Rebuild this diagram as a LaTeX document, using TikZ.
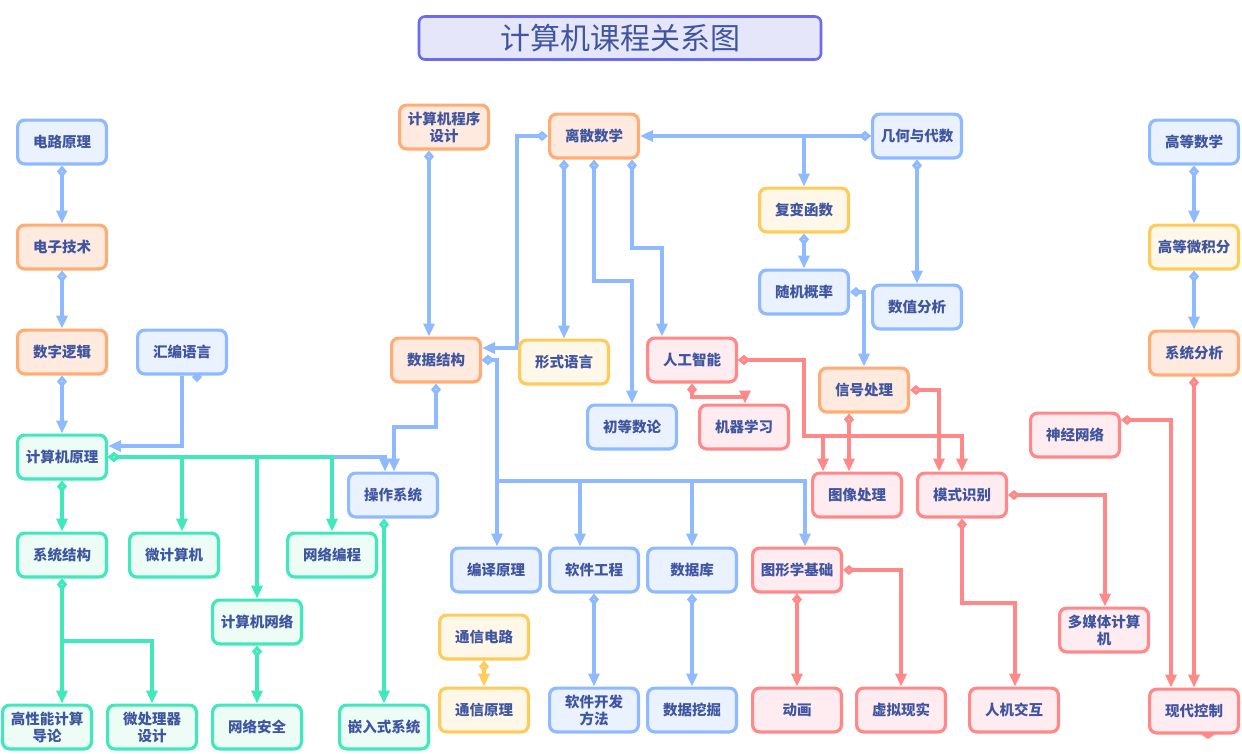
\documentclass[tikz,border=0pt]{standalone}
\usepackage{fontspec}
\newfontfamily\cjk{Noto Sans CJK SC}
\usetikzlibrary{arrows.meta}
\pgfdeclarelayer{bg}
\pgfsetlayers{bg,main}
\definecolor{tcol}{HTML}{3F55A0}
\definecolor{cblue}{HTML}{8FBAFF}\definecolor{fblue}{HTML}{EAF2FF}
\definecolor{corange}{HTML}{FFAD75}\definecolor{forange}{HTML}{FFEAE0}
\definecolor{cgreen}{HTML}{40E8BC}\definecolor{fgreen}{HTML}{EDFDF6}
\definecolor{cyellow}{HTML}{FFCC5C}\definecolor{fyellow}{HTML}{FFF8E8}
\definecolor{cred}{HTML}{FF8888}\definecolor{fred}{HTML}{FFECF0}
\definecolor{ctitle}{HTML}{6A6AF5}\definecolor{ftitle}{HTML}{E6E6FA}
\begin{document}
\begin{tikzpicture}[x=1pt,y=-1pt,
  box/.style={rectangle,rounded corners=7pt,line width=3.2pt,minimum width=88.8pt,minimum height=43.8pt,
    inner sep=1pt,align=center,text=tcol,font=\cjk\bfseries\fontsize{14.5}{17}\selectfont},
  nb/.style={box,draw=cblue,fill=fblue},
  no/.style={box,draw=corange,fill=forange},
  ng/.style={box,draw=cgreen,fill=fgreen},
  ny/.style={box,draw=cyellow,fill=fyellow},
  nr/.style={box,draw=cred,fill=fred},
  ln/.style={line width=3.2pt,line join=miter},
  ar/.style={ln,{Diamond[fill=white,length=12pt,width=10pt]}-{Triangle[length=13pt,width=11pt]}},
  eb/.style={ar,draw=cblue},
  eg/.style={ar,draw=cgreen},
  ey/.style={ar,draw=cyellow},
  er/.style={ar,draw=cred},
  ebn/.style={ln,draw=cblue,-{Triangle[length=13pt,width=11pt]}}
]
\useasboundingbox (0,0) rectangle (1242,753);
% title
\node[rectangle,rounded corners=6pt,draw=ctitle,fill=ftitle,line width=2.6pt,minimum width=402pt,minimum height=43pt,
  text=tcol,font=\cjk\fontsize{30}{32}\selectfont] (title) at (620,38) {计算机课程关系图};
% nodes
\node[nb] (dlyl) at (62,142) {电路原理};
\node[no] (dzjs) at (62,247) {电子技术};
\node[no] (szlj) at (62,352) {数字逻辑};
\node[nb] (hbyy) at (182,352) {汇编语言};
\node[ng] (jsjyl) at (62,457) {计算机原理};
\node[ng] (xtjg) at (62,555) {系统结构};
\node[ng] (wjsj) at (174,555) {微计算机};
\node[ng] (wlbc) at (332,555) {网络编程};
\node[nb] (czxt) at (393,495) {操作系统};
\node[ng] (jsjwl) at (257,622) {计算机网络};
\node[ng] (gxn) at (47,727) {高性能计算\\导论};
\node[ng] (wclq) at (152,727) {微处理器\\设计};
\node[ng] (wlaq) at (257,727) {网络安全};
\node[ng] (qrs) at (384,727) {嵌入式系统};
\node[no] (cxsj) at (444,127) {计算机程序\\设计};
\node[no] (sjjg) at (436,360) {数据结构};
\node[no] (lssx) at (594,136) {离散数学};
\node[ny] (xsyy) at (564,362) {形式语言};
\node[nr] (rgzn) at (692,360) {人工智能};
\node[nb] (cdsl) at (632,427) {初等数论};
\node[nr] (jqxx) at (744,427) {机器学习};
\node[nb] (bjyl) at (496,570) {编译原理};
\node[nb] (rjgc) at (594,570) {软件工程};
\node[nb] (sjk) at (692,570) {数据库};
\node[nr] (txx) at (797,570) {图形学基础};
\node[ny] (fbhs) at (804,210) {复变函数};
\node[nb] (jhds) at (917,136) {几何与代数};
\node[nb] (sjgl) at (804,292) {随机概率};
\node[nb] (szfx) at (917,307) {数值分析};
\node[no] (xhcl) at (864,390) {信号处理};
\node[nr] (txcl) at (857,495) {图像处理};
\node[nr] (msbs) at (962,495) {模式识别};
\node[nr] (sjwl) at (1075,435) {神经网络};
\node[nr] (dmt) at (1104,630) {多媒体计算\\机};
\node[no] (xtfx) at (1194,353) {系统分析};
\node[nb] (gdsx) at (1194,142) {高等数学};
\node[ny] (gdwjf) at (1194,247) {高等微积分};
\node[nr] (xdkz) at (1194,711) {现代控制};
\node[nr] (dh) at (797,710) {动画};
\node[nr] (xnxs) at (901,710) {虚拟现实};
\node[nr] (rjjh) at (1014,710) {人机交互};
\node[ny] (txdl) at (484,637) {通信电路};
\node[ny] (txyl) at (484,710) {通信原理};
\node[nb] (rjkf) at (594,710) {软件开发\\方法};
\node[nb] (sjwj) at (692,710) {数据挖掘};
\begin{pgfonlayer}{bg}
% blue
\draw[eb] (dlyl.south) -- (dzjs.north);
\draw[eb] (dzjs.south) -- (szlj.north);
\draw[eb] (szlj.south) -- (jsjyl.north);
\draw[ebn] (hbyy.south) |- ([yshift=11pt]jsjyl.east);
\fill[cblue] (197,372) -- (202,377) -- (197,382) -- (192,377) -- cycle;
\draw[eb] (jsjyl.east) -| ([xshift=-8pt]czxt.north);
\draw[eb] (sjjg.south) -- (436,427) -| ([xshift=1pt]czxt.north);
\draw[eb] ([xshift=-15pt]cxsj.south) -- ([xshift=-7pt]sjjg.north);
\draw[eb] (lssx.west) -- (517,136) |- ([yshift=12pt]sjjg.east);
\draw[eb] ([xshift=-30pt]lssx.south) -- (xsyy.north);
\draw[eb] (lssx.south) -- (594,281) -| (cdsl.north);
\draw[eb] ([xshift=38pt]lssx.south) -- (632,248) -| ([xshift=-30pt]rgzn.north);
\draw[eb] (jhds.west) -- (lssx.east);
\draw[eb] (jhds.west) -| (fbhs.north);
\draw[eb] (jhds.south) -- (szfx.north);
\draw[eb] (fbhs.south) -- (sjgl.north);
\draw[eb] (sjgl.east) -| (xhcl.north);
\draw[eb] (sjjg.east) -| ([xshift=1pt]bjyl.north);
\draw[eb] (sjjg.east) -- (497,360) -- (497,481) -| ([xshift=-14pt]rjgc.north);
\draw[eb] (sjjg.east) -- (497,360) -- (497,481) -| (sjk.north);
\draw[eb] (sjjg.east) -- (497,360) -- (497,481) -| ([xshift=8pt]txx.north);
\draw[eb] (rjgc.south) -- (rjkf.north);
\draw[eb] (sjk.south) -- (sjwj.north);
\draw[eb] (gdsx.south) -- (gdwjf.north);
\draw[eb] (gdwjf.south) -- (xtfx.north);
% green
\draw[eg] (jsjyl.south) -- (xtjg.north);
\draw[eg] (jsjyl.east) -| ([xshift=8pt]wjsj.north);
\draw[eg] (jsjyl.east) -| (jsjwl.north);
\draw[eg] (jsjyl.east) -| (wlbc.north);
\draw[eg] (xtjg.south) -- ([xshift=15pt]gxn.north);
\draw[eg] (xtjg.south) -- (62,641) -| (wclq.north);
\draw[eg] (jsjwl.south) -- (wlaq.north);
\draw[eg] ([xshift=-9pt]czxt.south) -- (qrs.north);
% yellow
\draw[ey] (txdl.south) -- (txyl.north);
% red
\draw[er] (rgzn.south) -- (692,397) -| ([xshift=1pt]jqxx.north);
\draw[er] (rgzn.east) -| (804,436) -| (msbs.north);
\draw[er] (rgzn.east) -| (804,436) -| ([xshift=-34pt]txcl.north);
\draw[er] ([xshift=-15pt]xhcl.south) -- ([xshift=-8pt]txcl.north);
\draw[er] (xhcl.east) -| ([xshift=-23pt]msbs.north);
\draw[er] (msbs.east) -| ([xshift=1pt]dmt.north);
\draw[er] (msbs.south) -- (962,603) -| ([xshift=1pt]rjjh.north);
\draw[er] (txx.south) -- (dh.north);
\draw[er] (txx.east) -| (xnxs.north);
\draw[er] ([yshift=15pt]sjwl.east) -| ([xshift=-23pt]xdkz.north);
\draw[er] (xtfx.south) -- (xdkz.north);
\fill[cred] (1199,733) -- (1208,727) -- (1217,733) -- (1208,739) -- cycle;
\end{pgfonlayer}
\end{tikzpicture}
\end{document}
